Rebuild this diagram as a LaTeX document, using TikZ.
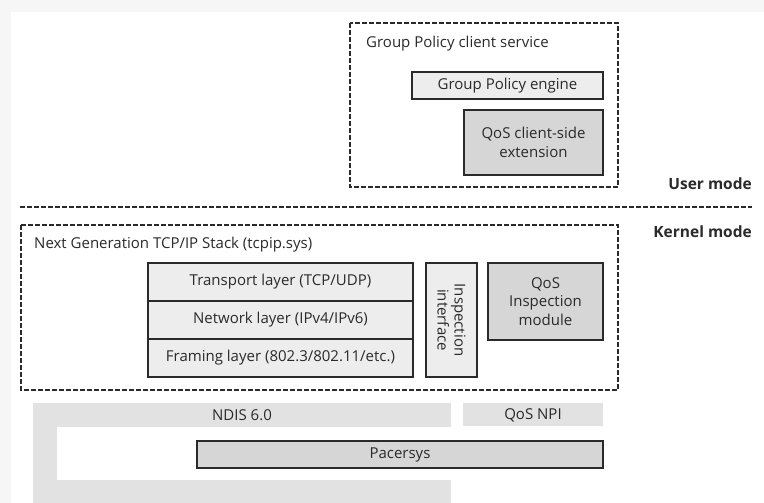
\documentclass[tikz,border=0pt]{standalone}
\usepackage{fontspec}
\setmainfont{Open Sans}
\definecolor{margin}{HTML}{F6F6F6}
\definecolor{lightbox}{HTML}{EDEDED}
\definecolor{darkbox}{HTML}{D6D6D6}
\definecolor{ndis}{HTML}{E2E2E2}
\definecolor{ink}{HTML}{2A2A2A}
\begin{document}
\begin{tikzpicture}[x=1pt,y=-1pt,
  every node/.style={font=\fontsize{15}{18.5}\selectfont, text=ink, inner sep=0pt},
  dashframe/.style={draw=ink, line width=1.2pt, dash pattern=on 5pt off 2pt},
  solidbox/.style={draw=ink, line width=1.2pt, align=center},
  lightfill/.style={solidbox, fill=lightbox},
  darkfill/.style={solidbox, fill=darkbox},
  modelabel/.style={font=\fontsize{15.5}{18}\selectfont\bfseries, anchor=east}
]
\useasboundingbox (0,0) rectangle (764,503);
% margin background
\fill[margin] (0,0) rectangle (764,503);
\fill[white] (11,12) rectangle (764,503);

% User mode part
\draw[dashframe] (350,23) rectangle (618,187);
\node[anchor=west] (gpcs) at (366,44) {Group Policy client service};
\node[lightfill, minimum width=191pt, minimum height=27pt] (gpe) at (507.5,85.5) {Group Policy engine};
\node[darkfill, minimum width=139pt, minimum height=65pt] (qcse) at (533.5,142.5) {QoS client-side\\extension};
\node[modelabel] (um) at (752,184) {User mode};

% separator
\draw[dashframe] (20,207) -- (752,207);
\node[modelabel] (km) at (752,232) {Kernel mode};

% Kernel TCP/IP stack
\draw[dashframe] (21,225) rectangle (618,390);
\node[anchor=west] (tcpip) at (34,245) {Next Generation TCP/IP Stack (tcpip.sys)};
\node[lightfill, minimum width=265pt, minimum height=38pt] (transport) at (280.5,282) {Transport layer (TCP/UDP)};
\node[lightfill, minimum width=265pt, minimum height=38pt] (network) at (280.5,320) {Network layer (IPv4/IPv6)};
\node[lightfill, minimum width=265pt, minimum height=38pt] (framing) at (280.5,358) {Framing layer (802.3/802.11/etc.)};
\node[solidbox, fill=lightbox, minimum width=51pt, minimum height=114pt] (iibox) at (451.5,320) {};
\node[rotate=-90, align=center, font=\fontsize{15}{17}\selectfont] (ii) at (iibox.center) {Inspection\\interface};
\node[darkfill, minimum width=115pt, minimum height=77pt] (qim) at (545.5,301.5) {QoS\\Inspection\\module};

% NDIS
\fill[ndis] (33,403) rectangle (451,503);
\fill[white] (57,427) rectangle (451,480);
\node (ndistext) at (242,415) {NDIS 6.0};
\fill[ndis] (463,403) rectangle (603,426);
\node (qnpi) at (533,415) {QoS NPI};
\node[darkfill, minimum width=406pt, minimum height=27pt] (pacer) at (400,454.5) {Pacersys};
\end{tikzpicture}
\end{document}
